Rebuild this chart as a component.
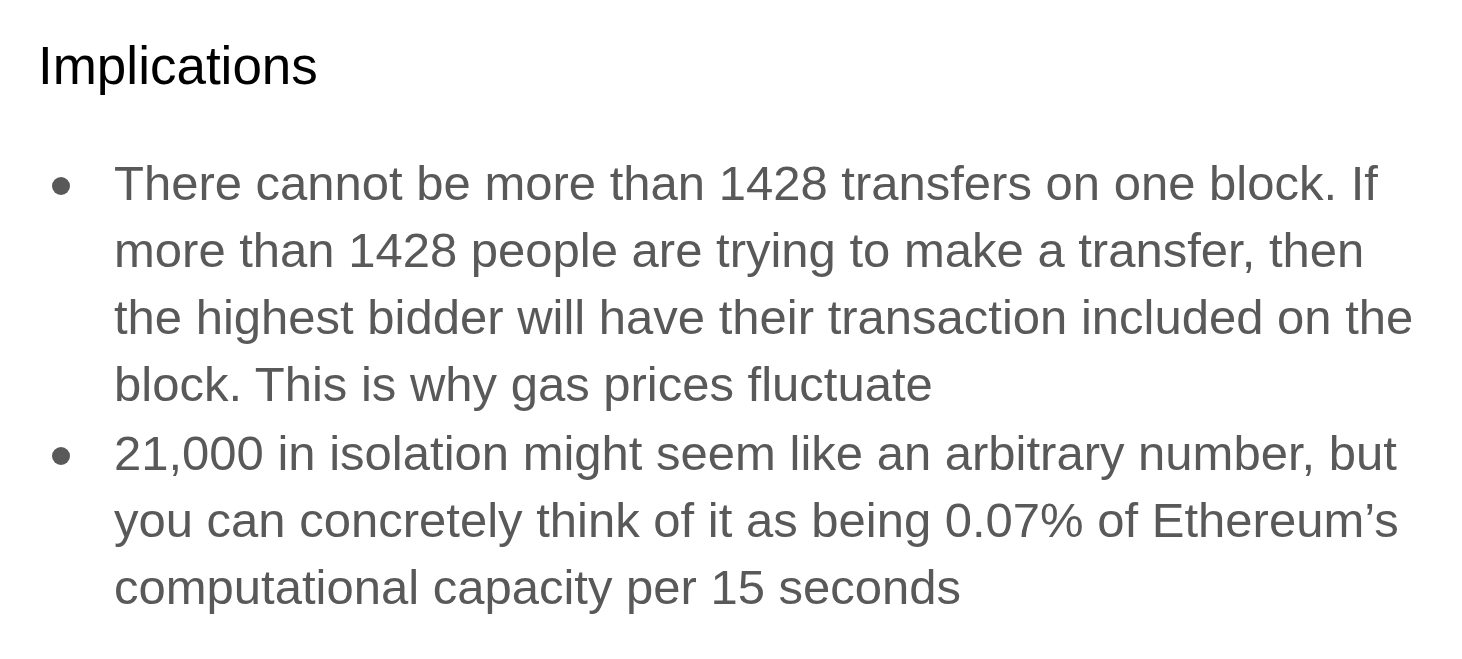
import React from "react";

const title = "Implications";
const bullets: string[][] = [
  [
    "There cannot be more than 1428 transfers on one block. If",
    "more than 1428 people are trying to make a transfer, then",
    "the highest bidder will have their transaction included on the",
    "block. This is why gas prices fluctuate",
  ],
  [
    "21,000 in isolation might seem like an arbitrary number, but",
    "you can concretely think of it as being 0.07% of Ethereum\u2019s",
    "computational capacity per 15 seconds",
  ],
];

export default function App() {
  const lineH = 67;
  let y = 200;
  const items: React.ReactNode[] = [];
  bullets.forEach((b, bi) => {
    items.push(<circle key={"c" + bi} cx={61} cy={y - 14} r={9} fill="#595959" />);
    b.forEach((l, li) => {
      items.push(
        <text key={bi + "-" + li} x={114} y={y} fontSize={49} fill="#595959">
          {l}
        </text>
      );
      y += lineH;
    });
    y += 2;
  });
  return (
    <svg width={1462} height={659} style={{ position: "absolute", left: 0, top: 0, background: "#fff" }} fontFamily="'Liberation Sans', Arial, sans-serif">
      <rect width={1462} height={659} fill="#fff" />
      <text x={38} y={84} fontSize={53} fill="#000">{title}</text>
      {items}
    </svg>
  );
}
